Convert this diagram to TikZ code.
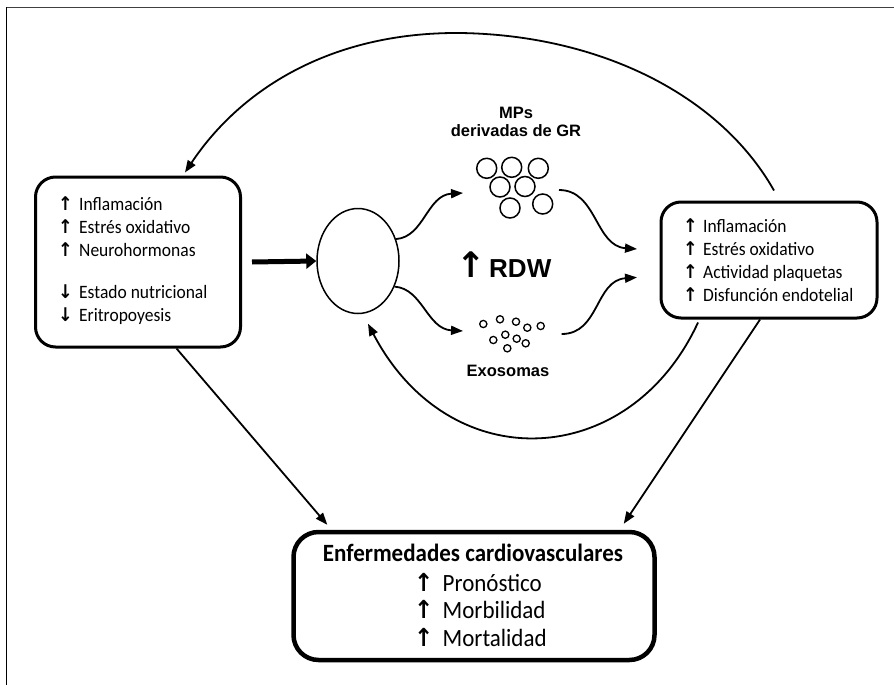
\documentclass[tikz,border=0pt]{standalone}
\usepackage{fontspec}
\usepackage{graphicx}
\setmainfont{Carlito}
\newfontfamily\arialf{Liberation Sans}
\newfontfamily\dejavuf{DejaVu Sans}
\newcommand\upA[1]{\makebox[#1][l]{{\dejavuf\bfseries ↑}}}
\newcommand\dnA[1]{\makebox[#1][l]{{\dejavuf\bfseries ↓}}}
\newcommand\vs[1]{\scalebox{1}[1.08]{#1}}
\usetikzlibrary{arrows.meta,shapes.geometric}
\begin{document}
\begin{tikzpicture}[x=1pt,y=-1pt,
  box/.style={draw, line width=3pt, rounded corners=20pt, inner sep=0pt},
  conn/.style={line width=1.8pt, -{Triangle[length=12pt,width=9pt]}},
  bigconn/.style={line width=5pt, -{Triangle[length=10pt,width=15pt]}},
  txt/.style={anchor=base west, inner sep=0pt, font=\fontsize{17.5}{20}\selectfont},
  btxt/.style={anchor=base west, inner sep=0pt, font=\fontsize{23}{26}\selectfont},
  atxt/.style={anchor=base, inner sep=0pt, font=\arialf\bfseries\fontsize{16.5}{19}\selectfont},
  bigc/.style={line width=1.5pt},
  smallc/.style={line width=1.3pt}]
\useasboundingbox (0,0) rectangle (894,685);
% frame
\draw[line width=1.5pt, black!75] (6,7.5) -- (894,7.5);
\draw[line width=1.5pt] (6.5,7) -- (6.5,685);

% boxes
\node[box, minimum width=205pt, minimum height=170pt] (lbox) at (138,262) {};
\node[box, minimum width=216pt, minimum height=116pt] (rbox) at (769,260) {};
\node[box, line width=4.5pt, rounded corners=25pt, minimum width=361pt, minimum height=128pt] (bbox) at (474,596) {};
\node[draw, ellipse, line width=1.5pt, minimum width=82pt, minimum height=105pt, inner sep=0pt] (cell) at (358,261) {};

% left box text
\node[txt] (l1) at (58,210) {\vs{\upA{21pt}Inflamación}};
\node[txt] (l2) at (58,233) {\vs{\upA{21pt}Estrés oxidativo}};
\node[txt] (l3) at (58,256) {\vs{\upA{21pt}Neurohormonas}};
\node[txt] (l4) at (58,298) {\vs{\dnA{21pt}Estado nutricional}};
\node[txt] (l5) at (58,321) {\vs{\dnA{21pt}Eritropoyesis}};

% right box text
\node[txt] (r1) at (683,232.5) {\vs{\upA{20pt}Inflamación}};
\node[txt] (r2) at (683,255) {\vs{\upA{20pt}Estrés oxidativo}};
\node[txt] (r3) at (683,278.5) {\vs{\upA{20pt}Actividad plaquetas}};
\node[txt] (r4) at (683,301) {\vs{\upA{20pt}Disfunción endotelial}};

% bottom box text
\node[anchor=base, inner sep=0pt, font=\bfseries\fontsize{23}{26}\selectfont] (b0) at (473,561.5) {\vs{Enfermedades cardiovasculares}};
\node[btxt] (b1) at (414,591) {\vs{\upA{28.5pt}Pronóstico}};
\node[btxt] (b2) at (414,618.5) {\vs{\upA{28.5pt}Morbilidad}};
\node[btxt] (b3) at (414,646) {\vs{\upA{28.5pt}Mortalidad}};

% centre labels
\node[atxt] (mp1) at (516,118.3) {MPs};
\node[atxt] (mp2) at (516,136.7) {derivadas de GR};
\node[atxt] (exo) at (508,376.7) {Exosomas};
\node[anchor=base west, inner sep=0pt, font=\arialf\bfseries\fontsize{26}{30}\selectfont] (rdw) at (456,277.4) {\makebox[33pt][l]{\scalebox{1.35}{\dejavuf\bfseries ↑}}RDW};

% MPs circles
\foreach \p in {(486.7,168.3),(511.7,167.3),(538.3,168.3),(500,187),(525,186.5),(510,208),(542.7,204)}
  \draw[bigc] \p circle (10pt);
% exosome circles
\foreach \p in {(483.3,324),(500,319.3),(516,321.7),(527.3,327.7),(540.7,326),(493.3,340),(505.3,334.7),(516.7,338.7),(525.7,343.3),(507.3,348.3)}
  \draw[smallc] \p circle (3.6pt);

% coordinates for the vesicle groups
\coordinate (mpsin) at (463,193);
\coordinate (mpsout) at (559,190);
\coordinate (exoin) at (463,331);
\coordinate (exoout) at (561.6,334);

% connectors
\draw[bigconn] ([xshift=10pt]lbox.east) -- (cell.west);
\draw[conn] (cell.30) .. controls +(28,-2) and +(-36,2) .. (mpsin);
\draw[conn] (cell.-35) .. controls +(28,2) and +(-36,-2) .. (exoin);
\draw[conn] (mpsout) .. controls +(38,0) and +(-42,-3) .. ([xshift=-22.5pt,yshift=11pt]rbox.west);
\draw[conn] (exoout) .. controls +(38,0) and +(-42,3) .. ([xshift=-22.5pt,yshift=-17.4pt]rbox.west);
\draw[conn] ([xshift=5pt,yshift=10pt]rbox.north) .. controls (720,95) and (600,35) .. (460,33)
   .. controls (330,32) and (240,90) .. ([xshift=47pt,yshift=3pt]lbox.north);
\draw[conn] ([xshift=-71pt,yshift=-3pt]rbox.south) .. controls (630,470) and (450,480) .. ([xshift=10pt,yshift=-9.5pt]cell.south);
\draw[conn] (lbox.-66) -- ([xshift=36pt,yshift=5pt]bbox.north west);
\draw[conn] ([xshift=-9pt]rbox.south) -- ([xshift=-33pt,yshift=6pt]bbox.north east);
\end{tikzpicture}
\end{document}
